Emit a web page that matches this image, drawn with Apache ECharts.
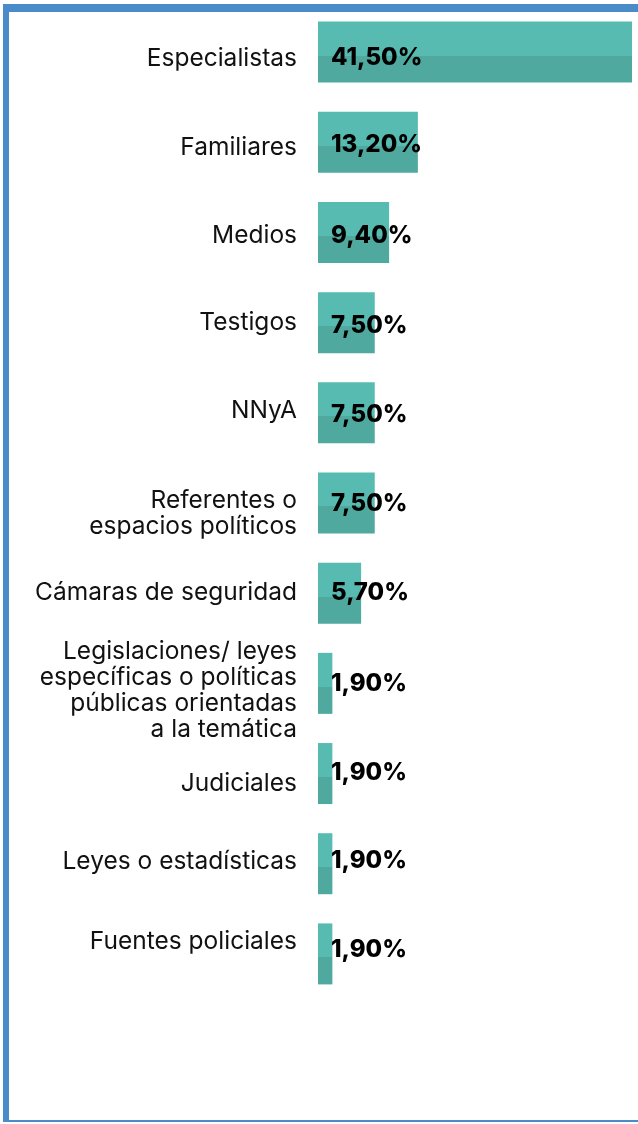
<!DOCTYPE html>
<html>
<head>
<meta charset="utf-8">
<script src="https://cdn.jsdelivr.net/npm/echarts@6/dist/echarts.min.js"></script>
<style>
  html, body { margin: 0; padding: 0; background: #fff; }
  .frame {
    position: absolute; left: 3px; top: 4px; width: 635px; height: 1118px;
    border-top: 8px solid #4a8bca; border-left: 6px solid #4a8bca; border-bottom: 2px solid #4a8bca;
    box-sizing: border-box;
  }
  .chart { position: absolute; left: 0; top: 0; width: 638px; height: 1124px; }
</style>
</head>
<body>
<div class="frame"></div>
<div class="chart" id="chart"></div>
<script>
var categories = [
  'Especialistas',
  'Familiares',
  'Medios',
  'Testigos',
  'NNyA',
  'Referentes o\nespacios políticos',
  'Cámaras de seguridad',
  'Legislaciones/ leyes\nespecíficas o políticas\npúblicas orientadas\na la temática',
  'Judiciales',
  'Leyes o estadísticas',
  'Fuentes policiales'
];
var values = [41.5, 13.2, 9.4, 7.5, 7.5, 7.5, 5.7, 1.9, 1.9, 1.9, 1.9];

// vertical nudges (px, + = down) of the texts, as placed in the original
var nameShift = [7, 5, 3, 0, -2.5, 10.5, -1, 7, 10.5, -2.5, -12.5];
var valueShift = [5.5, 2.5, 3, 3, 2, 0.5, 0, 0, -1, -3, -4.5];

var barColor = new echarts.graphic.LinearGradient(0, 0, 0, 1, [
    { offset: 0, color: '#57bbb2' },
    { offset: 0.557, color: '#57bbb2' },
    { offset: 0.557, color: '#4fa99e' },
    { offset: 1, color: '#4fa99e' }
]);

var chart = echarts.init(document.getElementById('chart'));
var option = {
    animation: false,
    grid: {
        left: 318,
        right: 6,
        top: 7,
        bottom: 125
    },
    xAxis: {
        type: 'value',
        show: false,
        min: 0,
        max: 41.5
    },
    yAxis: {
        type: 'category',
        inverse: true,
        data: categories,
        axisLine: { show: false },
        axisTick: { show: false },
        splitLine: { show: false },
        axisLabel: { show: false }
    },
    series: [
        {
            // category names, drawn left of each bar
            type: 'bar',
            barWidth: 61,
            silent: true,
            itemStyle: { color: 'rgba(0,0,0,0)' },
            data: values.map(function (v, i) {
                return { value: v, label: { offset: [0, nameShift[i]] } };
            }),
            label: {
                show: true,
                position: 'left',
                distance: 21,
                align: 'right',
                fontFamily: 'Inter',
                fontSize: 24.5,
                lineHeight: 26,
                color: '#111',
                formatter: function (p) { return categories[p.dataIndex]; }
            },
            z: 1
        },
        {
            type: 'bar',
            barWidth: 61,
            barGap: '-100%',
            itemStyle: { color: barColor },
            data: values.map(function (v, i) {
                return { value: v, label: { offset: [0, valueShift[i]] } };
            }),
            label: {
                show: true,
                position: 'insideLeft',
                distance: 13,
                fontFamily: 'Inter',
                fontWeight: 800,
                fontSize: 24,
                color: '#000',
                formatter: function (p) {
                    return p.value.toFixed(2).replace('.', ',') + '%';
                }
            },
            z: 2
        }
    ]
};
chart.setOption(option);
</script>
</body>
</html>
